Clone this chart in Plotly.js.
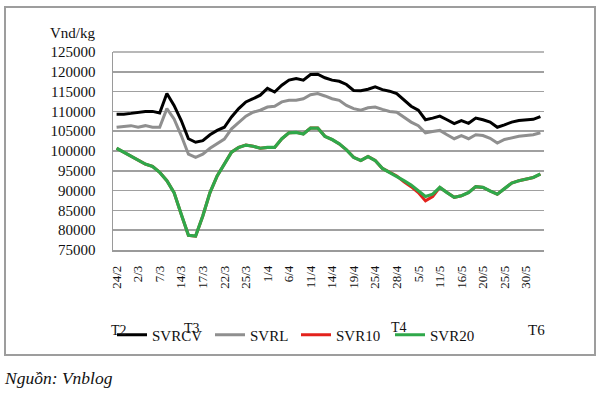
<!DOCTYPE html>
<html><head><meta charset="utf-8">
<script src="https://cdn.plot.ly/plotly-3.0.1.min.js"></script>
<style>html,body{margin:0;padding:0;background:#fff}#chart{width:600px;height:397px}</style>
</head><body><div id="chart"></div>
<script>
const tickLabels = ['24/2','2/3','7/3','14/3','17/3','22/3','25/3','1/4','6/4','11/4','14/4','19/4','25/4','28/4','5/5','11/5','16/5','20/5','25/5','30/5'];
const svrcv = [109300,109300,109500,109700,110000,110000,109600,114500,111500,107700,103100,102200,102600,104100,105200,106000,108600,110700,112400,113200,114100,115800,114900,116600,117900,118300,117900,119300,119400,118500,117900,117600,116800,115300,115200,115600,116200,115500,115100,114500,112800,111300,110300,107900,108300,108800,107900,106900,107700,107000,108300,107900,107300,106000,106600,107300,107700,107900,108000,108700];
const svrl = [106000,106200,106400,106000,106400,106000,106000,110700,108100,103900,99200,98400,99200,100700,101800,103000,105600,107300,108800,109800,110300,111100,111300,112400,112800,112800,113200,114200,114500,113900,113200,112800,111500,110700,110300,110900,111100,110500,110000,109800,108600,107300,106400,104600,104900,105200,104100,103100,103900,103100,104100,103900,103200,102000,102900,103300,103700,103900,104100,104600];
const svr10 = [100700,99700,98700,97600,96700,96100,94600,92500,89500,84000,78700,78500,83600,89500,93700,96700,99700,100900,101500,101200,100700,100900,100900,103100,104600,104700,104300,105800,105800,103700,102900,101800,100300,98400,97600,98600,97600,95600,94600,93700,92200,91000,89500,87400,88500,90800,89500,88300,88700,89500,91000,90800,89900,89100,90500,91900,92500,92900,93300,94200];
const svr20 = [100700,99700,98700,97600,96700,96100,94600,92500,89500,84000,78700,78500,83600,89500,93700,96700,99700,100900,101500,101200,100700,100900,100900,103100,104600,104700,104300,105800,105800,103700,102900,101800,100300,98400,97600,98600,97600,95600,94600,93700,92500,91400,89900,88500,89100,90800,89500,88300,88700,89500,91000,90800,89900,89100,90500,91900,92500,92900,93300,94200];
const seriesNames = ['SVRCV','SVRL','SVR10','SVR20'];
const monthMarks = ['T2','T3','T4','T6'];
const unitLabel = 'Vnd/kg';
const sourceText = 'Nguồn: Vnblog';

const FONT = 'Liberation Serif, Times New Roman, serif';
const W = 600, H = 397, L = 113, R = 544, T = 52, B = 250;
const px = x => (x - L) / (R - L);
const py = y => (B - y) / (B - T);
const xIdx = svrcv.map((_, i) => i);
const tickVals = tickLabels.map((_, k) => k * 3);

const colors = ['#000000', '#8f8f8f', '#e3221c', '#2fa84a'];
const widths = [3, 3, 3, 3.2];
const series = [svrcv, svrl, svr10, svr20];
const legendIds = ['legend', 'legend2', 'legend3', 'legend4'];
const traces = series.map((s, k) => ({
  type: 'scatter', mode: 'lines', x: xIdx, y: s, name: seriesNames[k],
  line: {color: colors[k], width: widths[k]}, legend: legendIds[k], hoverinfo: 'skip'
}));

const ann = (text, x, y, size, xanchor) => ({
  text, xref: 'paper', yref: 'paper', x: px(x), y: py(y), xanchor: xanchor || 'center', yanchor: 'middle',
  showarrow: false, font: {family: FONT, size, color: '#111'}
});

const legendX = [112, 210, 296, 390];
const legendY = 335;
const layout = {
  width: W, height: H,
  margin: {l: L, r: W - R, t: T, b: H - B, pad: 0},
  paper_bgcolor: '#fff', plot_bgcolor: '#fff',
  font: {family: FONT, size: 15, color: '#111'},
  xaxis: {
    range: [-0.5, svrcv.length - 0.5], tickmode: 'array', tickvals: tickVals, ticktext: tickLabels,
    tickangle: -90, showgrid: false, zeroline: false, showline: true, linecolor: '#9a9a9a', linewidth: 1.5,
    ticks: '', ticklabelstandoff: 9, tickfont: {family: FONT, size: 13, color: '#111'}
  },
  yaxis: {
    range: [75000, 125000], dtick: 5000, tick0: 75000, tickformat: 'd', showgrid: true, gridcolor: '#a0a0a0', gridwidth: 1.5,
    zeroline: false, showline: true, linecolor: '#9a9a9a', linewidth: 1.5, ticks: '', ticklabelstandoff: 13,
    tickfont: {family: FONT, size: 15, color: '#111'}
  },
  showlegend: true,
  shapes: [
    {type: 'rect', xref: 'paper', yref: 'paper', x0: px(5), x1: px(595), y0: py(355), y1: py(7), line: {color: '#9d9d9d', width: 2}, fillcolor: 'rgba(0,0,0,0)'},
    {type: 'line', xref: 'paper', yref: 'paper', x0: 0, x1: 1, y0: 1, y1: 1, line: {color: '#a0a0a0', width: 1.5}}
  ],
  annotations: [
    ann(unitLabel, 73, 33, 15),
    ann(monthMarks[0], 119, 330, 14),
    ann(monthMarks[1], 192, 328, 14),
    ann(monthMarks[2], 399, 327, 14),
    ann(monthMarks[3], 536, 330, 15),
    ann('<i>' + sourceText + '</i>', 2, 378, 17.5, 'left')
  ]
};
legendIds.forEach((id, k) => {
  layout[id] = {xref: 'container', yref: 'container', x: legendX[k] / W, y: 1 - legendY / H, xanchor: 'left', yanchor: 'middle',
    orientation: 'h', bgcolor: 'rgba(0,0,0,0)', borderwidth: 0, itemwidth: 30, font: {family: FONT, size: 15, color: '#111'}};
});
Plotly.newPlot('chart', traces, layout, {displayModeBar: false, staticPlot: true});
</script>
</body></html>
